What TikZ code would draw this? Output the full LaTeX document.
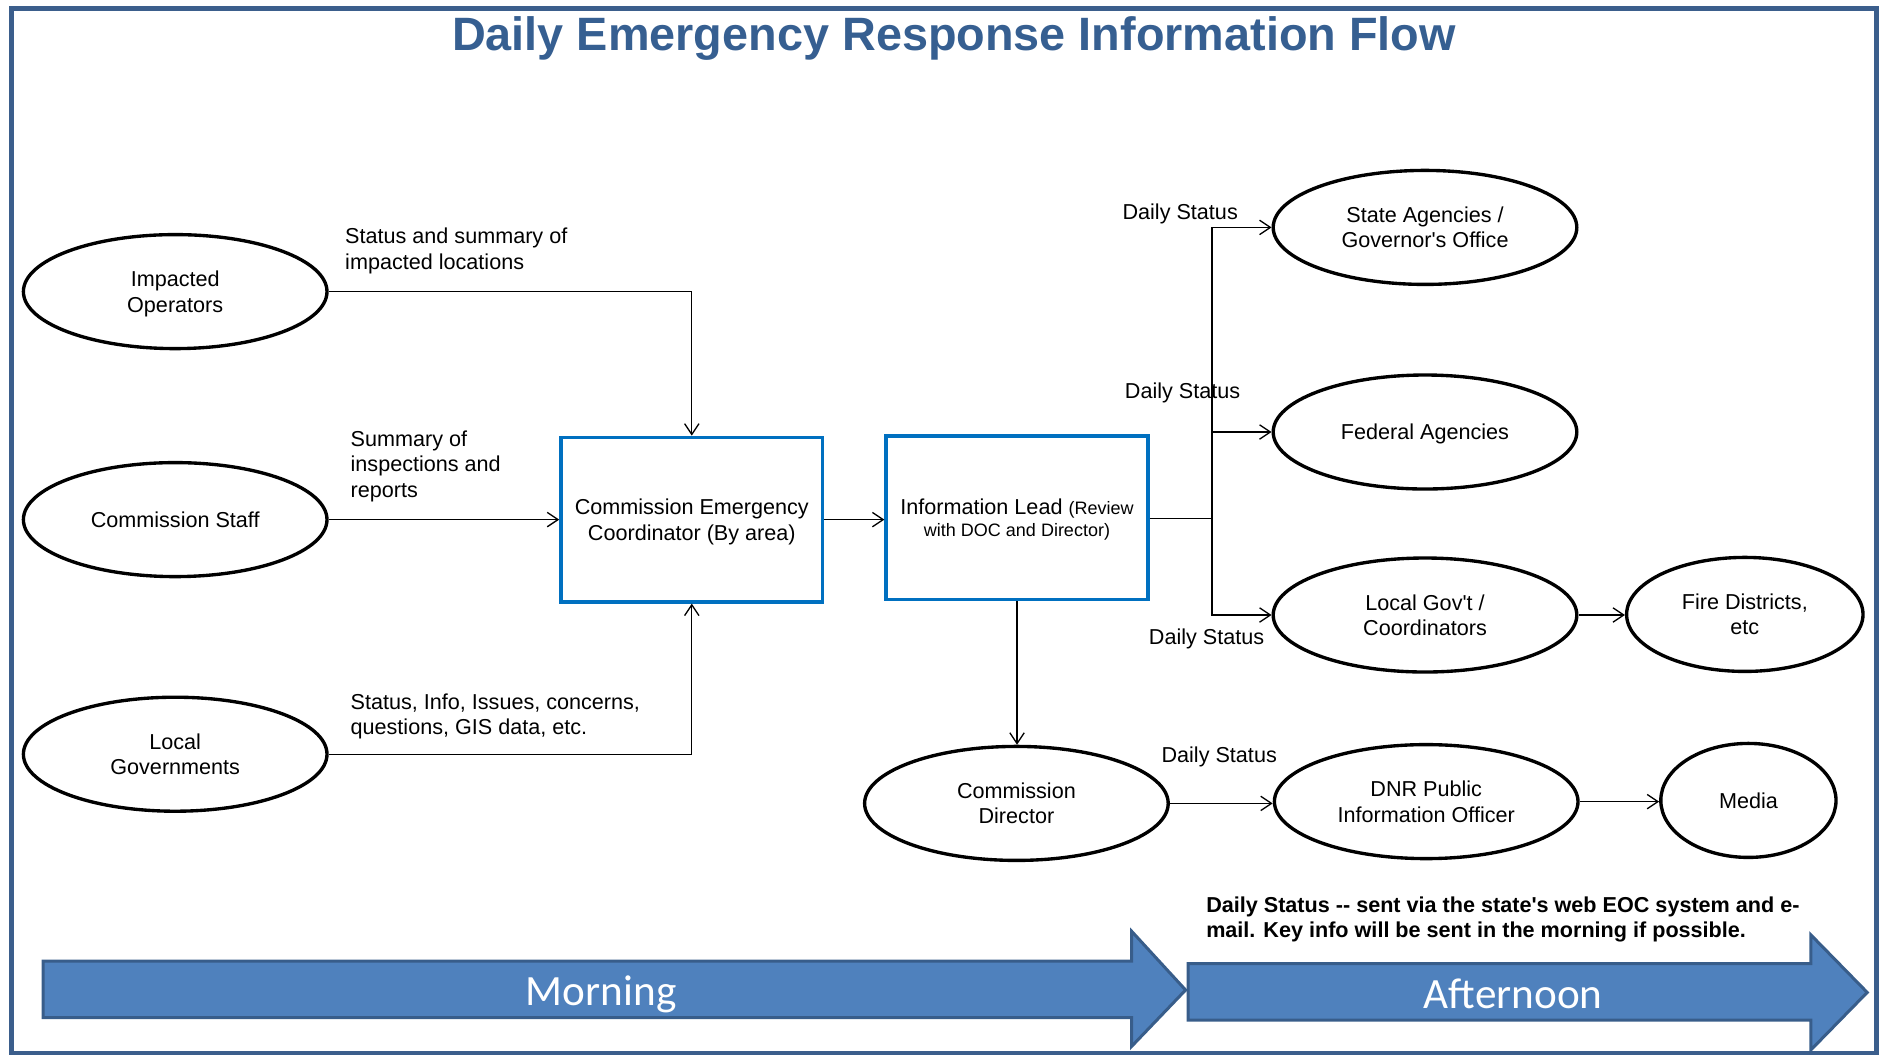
\documentclass[tikz,border=0pt]{standalone}
\usepackage{fontspec}
\newfontfamily\ls{Liberation Sans}
\newfontfamily\carl{Carlito}
\usetikzlibrary{shapes.geometric,arrows.meta}
\definecolor{frameblue}{HTML}{3B5E8C}
\definecolor{titleblue}{HTML}{365F91}
\definecolor{boxblue}{HTML}{0070C0}
\definecolor{arrowfill}{HTML}{4F81BD}
\definecolor{arrowdraw}{HTML}{385D8A}
\tikzset{
  ell/.style={ellipse, draw, line width=2.8pt, minimum width=253pt, minimum height=95pt,
    inner sep=0pt, text depth=0pt, align=center, font=\ls\fontsize{18}{21}\selectfont},
  bx/.style={draw=boxblue, line width=3pt, minimum width=218pt, minimum height=137pt,
    inner sep=0pt, text depth=0pt, align=center, font=\ls\fontsize{18}{21}\selectfont},
  conn/.style={draw, line width=1.1pt, -{Straight Barb[length=9pt,width=12pt]}},
  lbl/.style={font=\ls\fontsize{18}{21}\selectfont, inner sep=0pt, align=left},
  blockarrow/.style={fill=arrowfill, draw=arrowdraw, line width=2.5pt, line join=miter},
  timelbl/.style={font=\carl\fontsize{36}{40}\selectfont, text=white, inner sep=0pt, anchor=base}
}
\begin{document}
\begin{tikzpicture}[x=1pt,y=-1pt]
\useasboundingbox (0,0) rectangle (1567.5,879.2);
\draw[frameblue, line width=4pt] (9.5,7) rectangle (1563.5,877.5);

\node[font=\ls\bfseries\fontsize{39}{45}\selectfont, text=titleblue, anchor=base, inner sep=0pt]
  (title) at (795,42) {Daily Emergency Response Information Flow};

% ellipses
\node[ell] (io) at (146,243) {Impacted\\Operators};
\node[ell] (cs) at (146,433) {Commission Staff};
\node[ell] (lg) at (146,628.5) {Local\\Governments};
\node[ell] (sa) at (1187.5,189.5) {State Agencies /\\Governor's Office};
\node[ell] (fa) at (1187.5,360) {Federal Agencies};
\node[ell] (lgc) at (1187.5,512.5) {Local Gov't /\\Coordinators};
\node[ell, minimum width=197pt] (fd) at (1454,512) {Fire Districts,\\etc};
\node[ell] (cd) at (847,669.5) {Commission\\Director};
\node[ell] (dnr) at (1188.5,668) {DNR Public\\Information Officer};
\node[ell, minimum width=146pt] (md) at (1457,667) {Media};

% boxes
\node[bx] (box1) at (576.5,433) {Commission Emergency\\Coordinator (By area)};
\node[bx, minimum height=136pt] (box2) at (847.5,431.5)
  {Information Lead {\fontsize{15}{17}\selectfont(Review}\\[-3pt]{\fontsize{15}{17}\selectfont with DOC and Director)}};

% connectors
\draw[conn] (io.east) -| (box1.north);
\draw[conn] (cs.east) -- (box1.west |- cs.east);
\draw[conn] (lg.east) -| (box1.south);
\draw[conn] (box1.east) -- (box2.west |- box1.east);
\coordinate (tr) at (1010,432);
\draw[line width=1.5pt] (box2.east |- tr) -- (tr);
\draw[conn] (tr) |- (sa.west);
\draw[conn] (tr) |- (fa.west);
\draw[conn] (tr) |- (lgc.west);
\draw[conn] (box2.south) -- (box2.south |- cd.north);
\draw[conn] (cd.east) -- (dnr.west |- cd.east);
\draw[conn] (lgc.east) -- (fd.west |- lgc.east);
\draw[conn] (dnr.east) -- (md.west |- dnr.east);

% labels
\node[lbl, anchor=north west] (l1) at (287.5,190) {Status and summary of\\impacted locations};
\node[lbl, anchor=north west] (l2) at (292,359) {Summary of\\inspections and\\reports};
\node[lbl, anchor=north west] (l3) at (292,578) {Status, Info, Issues, concerns,\\questions, GIS data, etc.};
\node[lbl, anchor=base] (d1) at (983.5,183) {Daily Status};
\node[lbl, anchor=base] (d2) at (985.5,332) {Daily Status};
\node[lbl, anchor=base] (d3) at (1005.5,537) {Daily Status};
\node[lbl, anchor=base] (d4) at (1016,635) {Daily Status};
\node[lbl, anchor=north west, font=\ls\bfseries\fontsize{18}{21}\selectfont] (note) at (1005,747)
  {Daily Status -- sent via the state's web EOC system and e-\\mail. Key info will be sent in the morning if possible.};

% time arrows
\path[blockarrow] (36,801) -- (943,801) -- (943,776) -- (988,825) -- (943,872) -- (943,848) -- (36,848) -- cycle;
\path[blockarrow] (990,803) -- (1509,803) -- (1509,779) -- (1556,827) -- (1509,875) -- (1509,850) -- (990,850) -- cycle;
\node[timelbl] (morning) at (501,837.5) {Morning};
\node[timelbl] (afternoon) at (1261,840) {Afternoon};
\end{tikzpicture}
\end{document}
